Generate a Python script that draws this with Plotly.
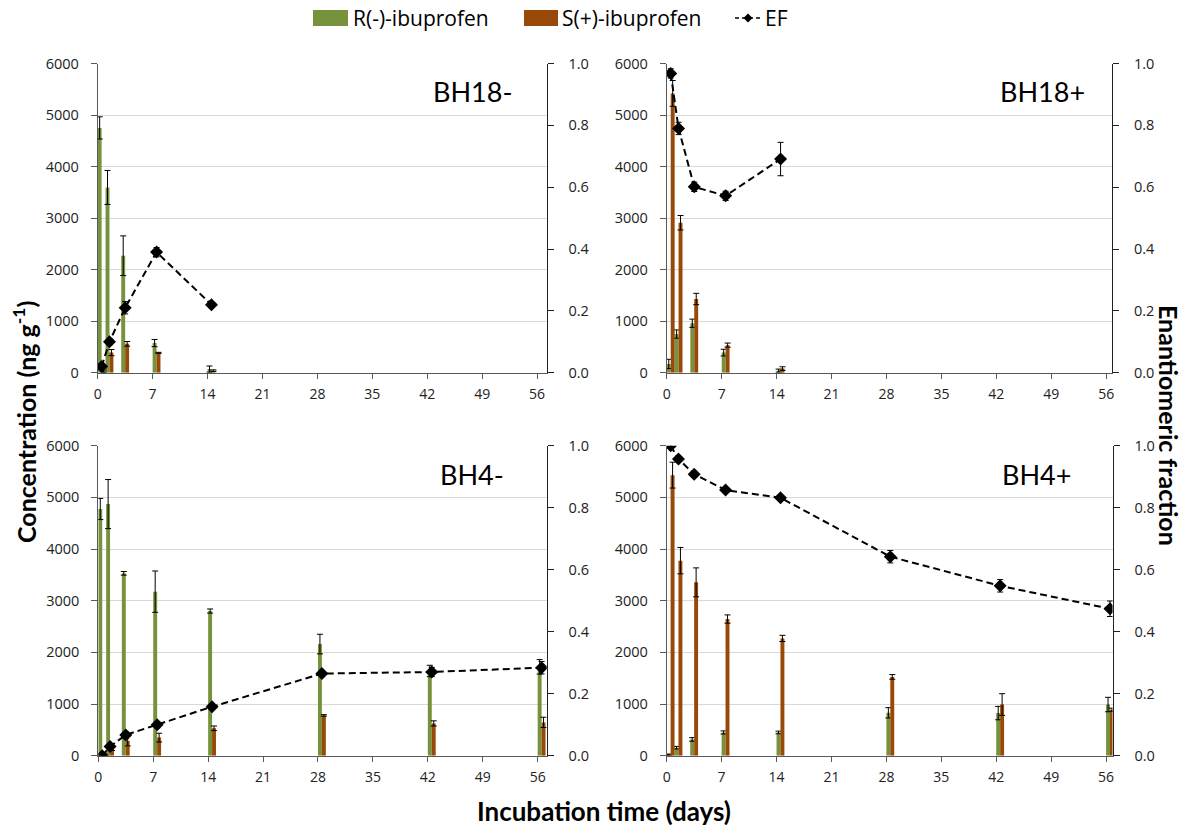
import plotly.graph_objects as go

W, H = 1192, 829
FONT = "Lato"
TFONT = "Open Sans"
GREEN = "#76923C"
ORANGE = "#984807"
AXC = "#595959"

days = [0, 1, 3, 7, 14, 28, 42, 56]
xticks = [0, 7, 14, 21, 28, 35, 42, 49, 56]
panel_names = ["BH18-", "BH18+", "BH4-", "BH4+"]

# BH18-
bh18m_R = [4750, 3595, 2270, 575, 70, None, None, None]
bh18m_R_err = [215, 330, 385, 70, 60, None, None, None]
bh18m_S = [30, 390, 560, 385, 40, None, None, None]
bh18m_S_err = [20, 60, 45, 10, 15, None, None, None]
bh18m_EF = [0.02, 0.10, 0.21, 0.39, 0.22, None, None, None]
bh18m_EF_err = [0.01, 0.01, 0.02, 0.015, 0.004, None, None, None]

# BH18+
bh18p_R = [170, 750, 960, 390, 40, None, None, None]
bh18p_R_err = [90, 80, 80, 65, 30, None, None, None]
bh18p_S = [5420, 2910, 1430, 535, 80, None, None, None]
bh18p_S_err = [250, 140, 110, 40, 35, None, None, None]
bh18p_EF = [0.968, 0.790, 0.601, 0.572, 0.691, None, None, None]
bh18p_EF_err = [0.015, 0.02, 0.015, 0.015, 0.054, None, None, None]

# BH4-
bh4m_R = [4775, 4870, 3530, 3175, 2800, 2160, 1640, 1720]
bh4m_R_err = [205, 475, 35, 400, 40, 190, 110, 140]
bh4m_S = [20, 130, 285, 350, 530, 780, 625, 645]
bh4m_S_err = [10, 30, 95, 85, 45, 15, 50, 100]
bh4m_EF = [0.0, 0.03, 0.067, 0.10, 0.158, 0.265, 0.270, 0.284]
bh4m_EF_err = [0.003, 0.005, 0.01, 0.01, 0.005, 0.01, 0.015, 0.02]

# BH4+
bh4p_R = [20, 155, 315, 450, 450, 830, 825, 990]
bh4p_R_err = [10, 25, 35, 30, 25, 100, 130, 140]
bh4p_S = [5430, 3775, 3355, 2645, 2270, 1525, 990, 890]
bh4p_S_err = [250, 255, 280, 80, 60, 45, 210, 30]
bh4p_EF = [1.0, 0.957, 0.908, 0.857, 0.832, 0.642, 0.548, 0.474]
bh4p_EF_err = [0.005, 0.005, 0.01, 0.008, 0.005, 0.02, 0.02, 0.025]

panels = [
    (bh18m_R, bh18m_R_err, bh18m_S, bh18m_S_err, bh18m_EF, bh18m_EF_err),
    (bh18p_R, bh18p_R_err, bh18p_S, bh18p_S_err, bh18p_EF, bh18p_EF_err),
    (bh4m_R, bh4m_R_err, bh4m_S, bh4m_S_err, bh4m_EF, bh4m_EF_err),
    (bh4p_R, bh4p_R_err, bh4p_S, bh4p_S_err, bh4p_EF, bh4p_EF_err),
]

# layout geometry (pixels)
xdom_px = [(97.7, 546.5), (666.8, 1112.0), (98.3, 546.7), (666.7, 1112.5)]
ydom_px = [(63.5, 372.7), (63.5, 372.7), (445.7, 755.7), (445.7, 755.7)]
label_pos = [(472, 91), (1042, 91), (472, 474), (1036, 474)]

def px_x(x):
    return x / W

def px_y(y):
    return 1 - y / H

fig = go.Figure()
layout = dict(
    width=W, height=H,
    margin=dict(l=0, r=0, t=0, b=0, pad=0),
    paper_bgcolor="white", plot_bgcolor="white",
    barmode="overlay", showlegend=False,
    font=dict(family=TFONT, color="#222222", size=14),
)

BW = 0.5
for i, (R, Re, S, Se, EF, EFe) in enumerate(panels):
    xn = "x" if i == 0 else f"x{i+1}"
    y1n = "y" if i == 0 else f"y{2*i+1}"
    y2n = f"y{2*i+2}"
    xk = "xaxis" if i == 0 else f"xaxis{i+1}"
    y1k = "yaxis" if i == 0 else f"yaxis{2*i+1}"
    y2k = f"yaxis{2*i+2}"

    eb = dict(type="data", color="black", thickness=1, width=3)
    fig.add_trace(go.Bar(x=days, y=R, width=BW, offset=0, marker_color=GREEN,
                         marker_line_width=0, error_y=dict(eb, array=Re),
                         xaxis=xn, yaxis=y1n, name="R(-)-ibuprofen"))
    fig.add_trace(go.Bar(x=days, y=S, width=BW, offset=BW, marker_color=ORANGE,
                         marker_line_width=0, error_y=dict(eb, array=Se),
                         xaxis=xn, yaxis=y1n, name="S(+)-ibuprofen"))
    fig.add_trace(go.Scatter(x=[d + BW for d in days], y=EF, mode="lines+markers",
                             line=dict(color="black", width=2, dash="7px,4px"),
                             marker=dict(symbol="diamond", size=10, color="black"),
                             error_y=dict(eb, array=EFe),
                             xaxis=xn, yaxis=y2n, name="EF"))

    x0, x1 = xdom_px[i]
    yt, yb = ydom_px[i]
    xr = (x1 - x0) / 7.846
    layout[xk] = dict(domain=[px_x(x0), px_x(x1)], range=[0, xr], anchor=y1n,
                      tickvals=xticks, showgrid=False, zeroline=False,
                      showline=True, linecolor=AXC, linewidth=1,
                      ticks="outside", ticklen=5, tickcolor=AXC,
                      ticklabelstandoff=3, automargin=False,
                      tickfont=dict(size=14))
    layout[y1k] = dict(domain=[px_y(yb), px_y(yt)], range=[0, 6000], dtick=1000,
                       anchor=xn, showgrid=True, gridcolor="#d9d9d9", gridwidth=1,
                       zeroline=False, showline=True, linecolor=AXC, linewidth=1,
                       ticks="outside", ticklen=6, tickcolor=AXC,
                       ticklabelstandoff=9, automargin=False,
                       tickfont=dict(size=14.5))
    layout[y2k] = dict(overlaying=y1n, side="right", anchor=xn, range=[0, 1],
                       dtick=0.2, tickformat=".1f", showgrid=False, zeroline=False,
                       showline=True, linecolor="#222222", linewidth=1,
                       ticks="outside", ticklen=6, tickcolor="#222222",
                       ticklabelstandoff=12, automargin=False,
                       tickfont=dict(size=14.5))

fig.update_layout(**layout)

annotations = []
for name, (lx, ly) in zip(panel_names, label_pos):
    annotations.append(dict(x=px_x(lx), y=px_y(ly), xref="paper", yref="paper",
                            text=name, showarrow=False, xanchor="center",
                            yanchor="middle", font=dict(size=27, family=FONT, color="black")))

annotations.append(dict(x=px_x(24), y=px_y(422), xref="paper", yref="paper",
                        xanchor="center", yanchor="middle",
                        text="<b>Concentration (ng g<sup>-1</sup>)</b>", textangle=-90,
                        showarrow=False, font=dict(size=25, family=FONT, color="black")))
annotations.append(dict(x=px_x(1169), y=px_y(425), xref="paper", yref="paper",
                        xanchor="center", yanchor="middle",
                        text="<b>Enantiomeric fraction</b>", textangle=90,
                        showarrow=False, font=dict(size=25, family=FONT, color="black")))
annotations.append(dict(x=px_x(604), y=px_y(811), xref="paper", yref="paper",
                        xanchor="center", yanchor="middle",
                        text="<b>Incubation time (days)</b>",
                        showarrow=False, font=dict(size=26, family=FONT, color="black")))

# legend (manual)
LY = 18
shapes = []
shapes.append(dict(type="rect", xref="paper", yref="paper", x0=px_x(313), x1=px_x(348),
                   y0=px_y(26), y1=px_y(10), fillcolor=GREEN, line=dict(width=0)))
shapes.append(dict(type="rect", xref="paper", yref="paper", x0=px_x(524), x1=px_x(558),
                   y0=px_y(26), y1=px_y(10), fillcolor=ORANGE, line=dict(width=0)))
shapes.append(dict(type="line", xref="paper", yref="paper", x0=px_x(735), x1=px_x(762),
                   y0=px_y(LY), y1=px_y(LY), line=dict(color="black", width=1.5, dash="4px,3px")))
cx, cy, d = 748, LY, 4.5
shapes.append(dict(type="path", xref="paper", yref="paper",
                   path=(f"M {px_x(cx)},{px_y(cy-d)} L {px_x(cx+d)},{px_y(cy)} "
                         f"L {px_x(cx)},{px_y(cy+d)} L {px_x(cx-d)},{px_y(cy)} Z"),
                   fillcolor="black", line=dict(width=0)))
for tx, t in [(351, "R(-)-ibuprofen"), (560, "S(+)-ibuprofen"), (763, "EF")]:
    annotations.append(dict(x=px_x(tx), y=px_y(LY), xref="paper", yref="paper",
                            text=t, showarrow=False, xanchor="left", yanchor="middle",
                            font=dict(size=21, family=TFONT, color="black")))

fig.update_layout(annotations=annotations, shapes=shapes)
fig.write_html("out.html")
